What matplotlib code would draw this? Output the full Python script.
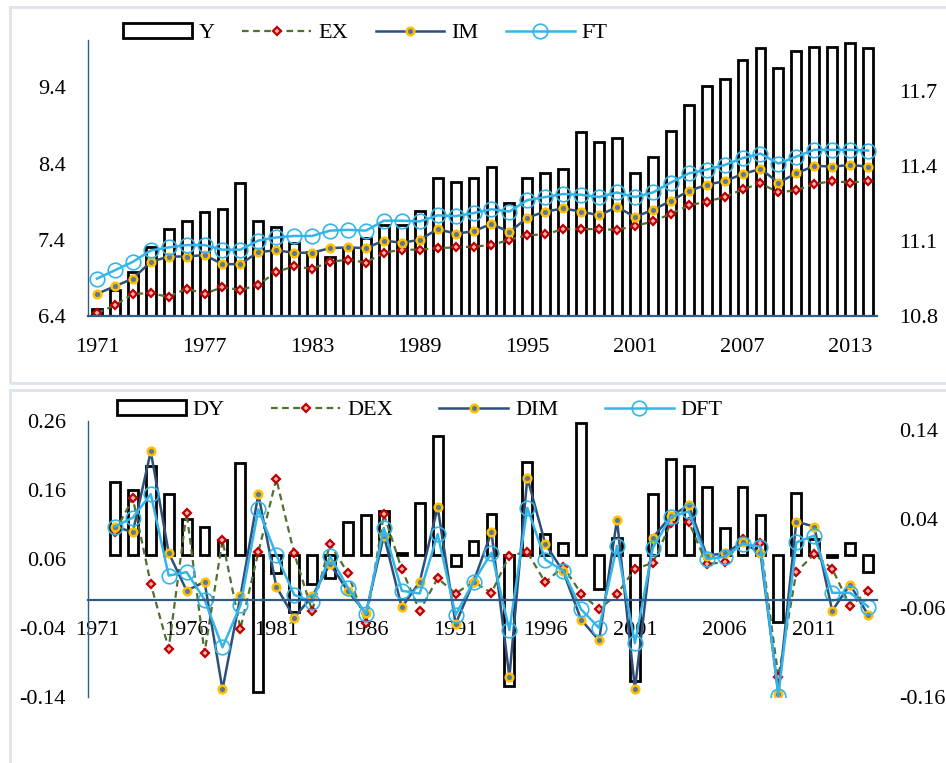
import matplotlib
matplotlib.use('Agg')
import matplotlib.pyplot as plt
from matplotlib.patches import Rectangle
import numpy as np

plt.rcParams['font.family'] = ['Liberation Serif', 'DejaVu Serif']
plt.rcParams['font.size'] = 16
plt.rcParams['axes.unicode_minus'] = False

#levels, 1971-2014
years = np.arange(1971, 2015)
Y = [10.827, 10.904, 10.976, 11.077, 11.147, 11.181, 11.215, 11.228, 11.331, 11.179, 11.157,
     11.091, 11.057, 11.037, 11.071, 11.111, 11.164, 11.164, 11.221, 11.351, 11.337,
     11.351, 11.397, 11.251, 11.351, 11.373, 11.387, 11.537, 11.495, 11.511, 11.373, 11.437,
     11.541, 11.644, 11.721, 11.747, 11.824, 11.871, 11.793, 11.861, 11.877, 11.877, 11.891, 11.871]
EX = [6.44, 6.54, 6.69, 6.70, 6.65, 6.76, 6.69, 6.78, 6.74, 6.81, 6.98,
      7.05, 7.02, 7.11, 7.14, 7.10, 7.23, 7.27, 7.27, 7.29, 7.30,
      7.31, 7.33, 7.40, 7.46, 7.47, 7.54, 7.54, 7.54, 7.53, 7.58, 7.64,
      7.74, 7.85, 7.90, 7.96, 8.06, 8.14, 8.02, 8.05, 8.13, 8.17, 8.15, 8.17]
IM = [6.69, 6.79, 6.89, 7.11, 7.18, 7.18, 7.20, 7.08, 7.08, 7.24, 7.26,
      7.23, 7.23, 7.29, 7.30, 7.29, 7.39, 7.36, 7.40, 7.54, 7.48,
      7.51, 7.61, 7.50, 7.69, 7.77, 7.81, 7.77, 7.72, 7.83, 7.70, 7.79,
      7.91, 8.04, 8.12, 8.17, 8.26, 8.33, 8.15, 8.27, 8.37, 8.36, 8.38, 8.36]
FT = [6.89, 7.00, 7.11, 7.26, 7.30, 7.33, 7.33, 7.27, 7.27, 7.39, 7.43,
      7.45, 7.45, 7.52, 7.53, 7.52, 7.65, 7.65, 7.64, 7.72, 7.71,
      7.75, 7.80, 7.77, 7.92, 7.96, 8.00, 7.99, 7.96, 8.02, 7.96, 8.02,
      8.15, 8.27, 8.32, 8.38, 8.47, 8.53, 8.40, 8.49, 8.58, 8.58, 8.58, 8.57]

#first differences, 1972-2014
dyears = years[1:]
DY = [0.081, 0.073, 0.100, 0.068, 0.040, 0.031, 0.016, 0.103, -0.154, -0.021, -0.064, -0.033, -0.026, 0.037,
      0.044, 0.049, 0.002, 0.058, 0.133, -0.013, 0.015, 0.046, -0.148, 0.104, 0.023, 0.013, 0.148, -0.039,
      0.019, -0.142, 0.068, 0.107, 0.100, 0.076, 0.030, 0.076, 0.044, -0.076, 0.069, 0.017, -0.003, 0.013, -0.020]
DEX = [0.099, 0.148, 0.024, -0.070, 0.127, -0.076, 0.087, -0.041, 0.070, 0.176, 0.068, -0.015, 0.082, 0.039,
       -0.033, 0.125, 0.045, -0.015, 0.032, 0.010, 0.027, 0.011, 0.065, 0.070, 0.026, 0.049, 0.010, -0.013,
       0.009, 0.046, 0.054, 0.112, 0.114, 0.053, 0.055, 0.089, 0.083, -0.111, 0.041, 0.067, 0.046, -0.008, 0.013]
DIM = [0.107, 0.099, 0.216, 0.069, 0.014, 0.027, -0.129, 0.006, 0.154, 0.020, -0.025, 0.006, 0.053, 0.013,
       -0.018, 0.094, -0.010, 0.027, 0.135, -0.034, 0.027, 0.099, -0.111, 0.178, 0.082, 0.042, -0.028, -0.058,
       0.117, -0.128, 0.091, 0.122, 0.138, 0.065, 0.068, 0.084, 0.069, -0.135, 0.114, 0.107, -0.015, 0.023, -0.021]
DFT = [0.107, 0.120, 0.154, 0.036, 0.041, 0.001, -0.068, -0.007, 0.132, 0.066, 0.008, -0.002, 0.064, 0.018,
       -0.020, 0.105, 0.014, 0.010, 0.096, -0.021, 0.027, 0.069, -0.043, 0.134, 0.059, 0.043, -0.013, -0.040,
       0.079, -0.062, 0.076, 0.121, 0.129, 0.060, 0.063, 0.082, 0.078, -0.138, 0.084, 0.094, 0.011, 0.011, -0.009]

top_right_ticks = [10.8, 11.1, 11.4, 11.7]
top_left_ticks = [6.4, 7.4, 8.4, 9.4]
bot_left_ticks = [0.26, 0.16, 0.06, -0.04, -0.14]
bot_right_ticks = [0.14, 0.04, -0.06, -0.16]

axis_blue = '#2F5C88'
ex_green = '#4F7031'
ex_red = '#C00000'
im_blue = '#2E4F78'
im_gold = '#FFC000'
ft_blue = '#34B5EA'

W, H = 946.0, 763.0
fig = plt.figure(figsize=(9.46, 7.63), dpi=100)

#light frames round the two charts
for (x0, y0, x1, y1) in [(10, 7, 955, 383), (10, 390, 955, 775)]:
    fig.patches.append(Rectangle((x0 / W, 1 - y1 / H), (x1 - x0) / W, (y1 - y0) / H,
                                 transform=fig.transFigure, fill=False,
                                 edgecolor='#DEE4EB', linewidth=2))


def draw_lines(ax, a, b, c, xs):
    l1, = ax.plot(xs, a, color=ex_green, lw=1.6, ls=(0, (3, 2)), marker='D', ms=4.5,
                  mfc='#F3B0B0', mec=ex_red, mew=1.6)
    l2, = ax.plot(xs, b, color=im_blue, lw=1.8, marker='o', ms=5.5,
                  mfc='#5C7896', mec=im_gold, mew=1.8)
    l3, = ax.plot(xs, c, color=ft_blue, lw=1.8, marker='o', ms=10.5,
                  mfc='none', mec=ft_blue, mew=1.2)
    return l1, l2, l3


def style(ax_bar, ax_line, ylab_r, ylab_l):
    for s in ax_bar.spines.values():
        s.set_visible(False)
    for s in ax_line.spines.values():
        s.set_visible(False)
    ax_line.spines['left'].set_visible(True)
    ax_line.spines['left'].set_color(axis_blue)
    ax_line.spines['left'].set_linewidth(1.0)
    ax_bar.yaxis.tick_right()
    ax_line.yaxis.tick_left()
    ax_bar.set_yticks(ylab_r)
    ax_bar.set_yticklabels(['%g' % v for v in ylab_r])
    ax_line.set_yticks(ylab_l)
    ax_line.set_yticklabels(['%g' % v for v in ylab_l])
    ax_bar.tick_params(axis='y', length=0, pad=16)
    ax_line.tick_params(axis='y', length=0, pad=16)
    ax_bar.set_xlim(1970.5, 2014.5)


#top chart: levels
axY = fig.add_axes([88 / W, 1 - 316 / H, 789 / W, 276 / H])
bars = axY.bar(years, Y, width=0.55, color='white', edgecolor='black', linewidth=2.0)
axY.set_ylim(10.8, 11.905)
axL = axY.twinx()
ex_l, im_l, ft_l = draw_lines(axL, EX, IM, FT, years)
axL.set_ylim(6.4, 10.02)
style(axY, axL, top_right_ticks, top_left_ticks)
axL.spines['bottom'].set_visible(True)
axL.spines['bottom'].set_color(axis_blue)
axL.spines['bottom'].set_linewidth(1.6)
axY.set_xticks(np.arange(1971, 2015, 6))
axY.tick_params(axis='x', length=0, pad=16)

fig.legend([bars, ex_l, im_l, ft_l], ['Y', 'EX', 'IM', 'FT'], loc='center left',
           bbox_to_anchor=(123 / W, 1 - 33 / H), ncol=4, frameon=False,
           handlelength=3.1, handletextpad=0.3, columnspacing=1.25,
           borderpad=0, borderaxespad=0)

#bottom chart: differences
axDY = fig.add_axes([88 / W, 1 - 697 / H, 789 / W, 276 / H])
dbars = axDY.bar(dyears, DY, width=0.55, color='white', edgecolor='black', linewidth=2.0)
axDY.set_ylim(-0.16, 0.15)
axD = axDY.twinx()
dex_l, dim_l, dft_l = draw_lines(axD, DEX, DIM, DFT, dyears)
axD.set_ylim(-0.14, 0.26)
style(axDY, axD, bot_right_ticks, bot_left_ticks)
axDY.xaxis.set_visible(False)
axD.xaxis.set_visible(True)
axD.spines['bottom'].set_visible(True)
axD.spines['bottom'].set_position(('data', 0))
axD.spines['bottom'].set_color(axis_blue)
axD.spines['bottom'].set_linewidth(1.6)
axD.set_xticks(np.arange(1971, 2012, 5))
axD.tick_params(axis='x', length=0, pad=15)

fig.legend([dbars, dex_l, dim_l, dft_l], ['DY', 'DEX', 'DIM', 'DFT'], loc='center left',
           bbox_to_anchor=(117 / W, 1 - 410 / H), ncol=4, frameon=False,
           handlelength=3.1, handletextpad=0.3, columnspacing=2.1,
           borderpad=0, borderaxespad=0)

fig.savefig('out.png', dpi=100)
